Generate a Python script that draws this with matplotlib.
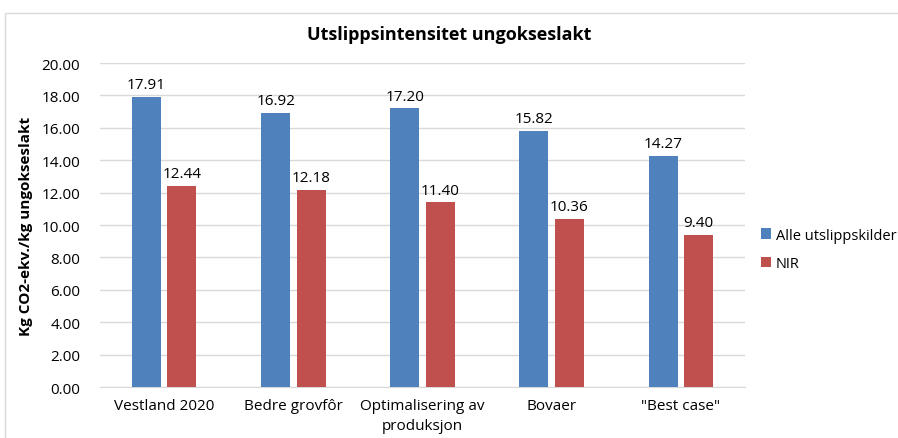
import matplotlib.pyplot as plt
import numpy as np
from matplotlib.patches import Rectangle

plt.rcParams['font.family'] = ['Open Sans', 'DejaVu Sans']

# data
categories = ['Vestland 2020', 'Bedre grovfôr', 'Optimalisering av\nproduksjon', 'Bovaer', '"Best case"']
alle = [17.91, 16.92, 17.20, 15.82, 14.27]
nir = [12.44, 12.18, 11.40, 10.36, 9.40]
series_names = ['Alle utslippskilder', 'NIR']

blue = '#4F81BD'
red = '#C0504D'

fig = plt.figure(figsize=(8.98, 4.39), dpi=100)
ax = fig.add_axes([0.111, 0.116, 0.719, 0.738])

# outer chart frame (runs past the right and bottom edges)
fig.patches.append(Rectangle((5 / 898, -0.1), 1.0, 1.1 - 14 / 439, transform=fig.transFigure,
                             fill=False, edgecolor='#D9D9D9', linewidth=1))

x = np.arange(len(categories))
w = 0.225
b1 = ax.bar(x - 0.137, alle, w, color=blue, label=series_names[0], zorder=3)
b2 = ax.bar(x + 0.137, nir, w, color=red, label=series_names[1], zorder=3)

for bars in (b1, b2):
    for r in bars:
        h = r.get_height()
        ax.text(r.get_x() + r.get_width() / 2, h + 0.3, f'{h:.2f}', ha='center', va='bottom',
                fontsize=11, color='#000000')

ax.set_xlim(-0.5, len(categories) - 0.5)
ax.set_ylim(0, 20)
ax.set_yticks(np.arange(0, 21, 2))
ax.set_yticklabels([f'{v:.2f}' for v in np.arange(0, 21, 2)])
ax.set_xticks(x)
ax.set_xticklabels(categories, fontsize=11, linespacing=1.45)
ax.tick_params(axis='y', labelsize=11, length=0, pad=14)
ax.tick_params(axis='x', length=0, pad=8)
ax.yaxis.grid(True, color='#D9D9D9', linewidth=1, zorder=0)
for s in ['top', 'right', 'left']:
    ax.spines[s].set_visible(False)
ax.spines['bottom'].set_color('#D9D9D9')

ax.set_ylabel('Kg CO2-ekv./kg ungokseslakt', fontsize=11, fontweight='bold', labelpad=6)
fig.text(0.5, 0.92, 'Utslippsintensitet ungokseslakt', ha='center', va='center',
         fontsize=13, fontweight='bold')

fig.legend(handles=[b1, b2], labels=series_names, loc='center left', bbox_to_anchor=(0.833, 0.43),
           frameon=False, fontsize=10.5, handlelength=0.7, handleheight=0.7, handletextpad=0.3,
           labelspacing=0.9)

fig.savefig('out.png', dpi=100)
